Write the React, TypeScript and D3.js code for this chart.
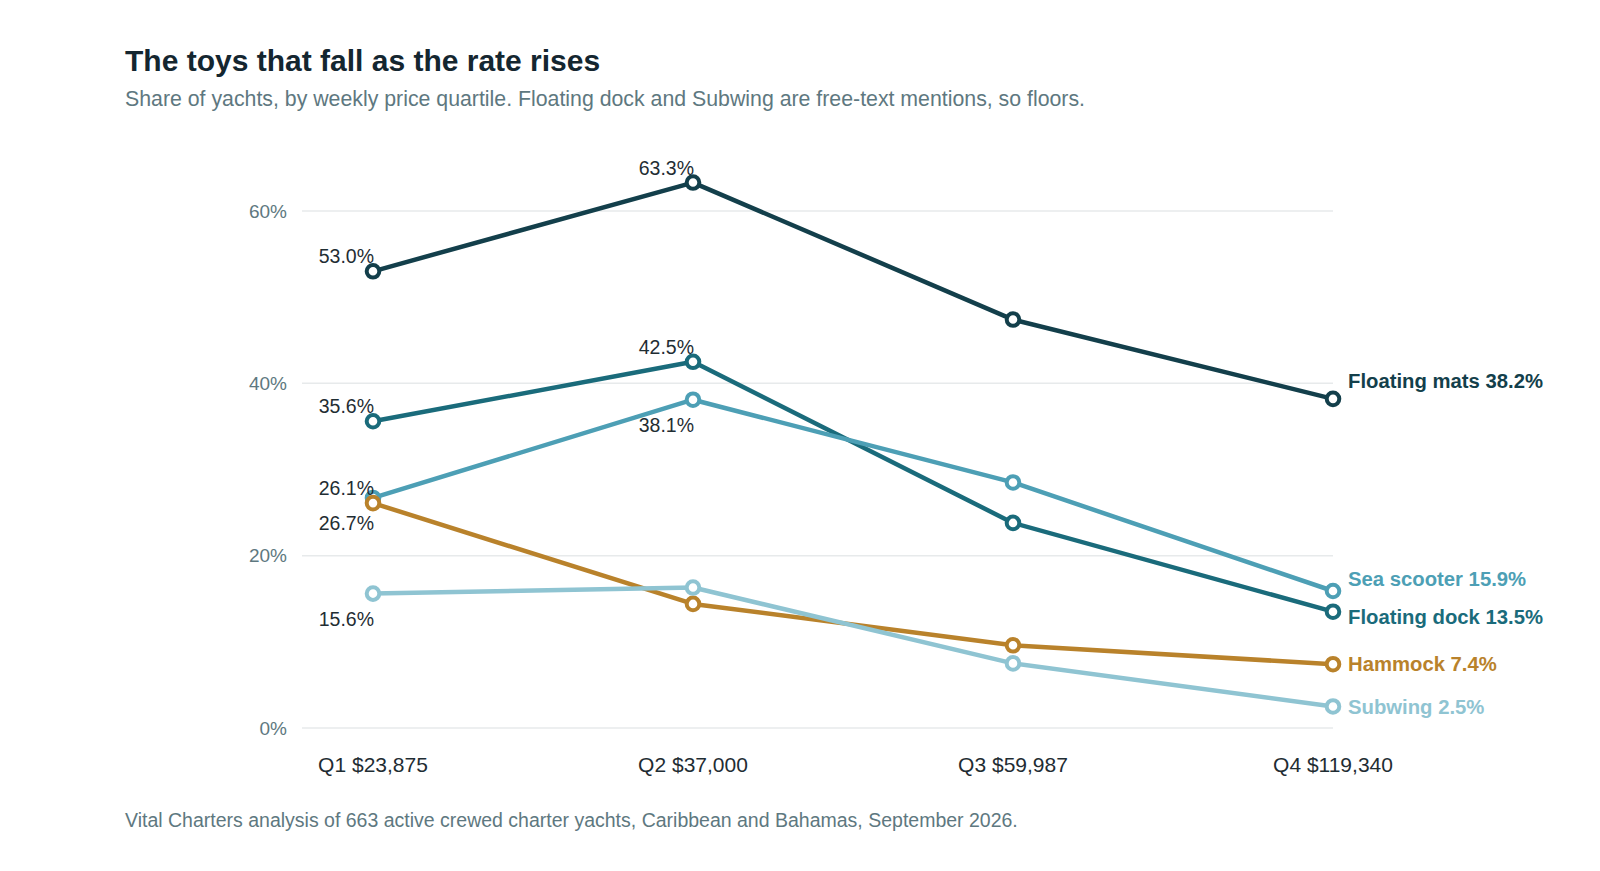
import { useEffect, useRef } from "react";
import * as d3 from "d3";

// Share of yachts offering each toy, by weekly price quartile.
const quartiles = ["Q1 $23,875", "Q2 $37,000", "Q3 $59,987", "Q4 $119,340"];
const seriesNames = ["Floating mats", "Floating dock", "Sea scooter", "Hammock", "Subwing"];
const floatingMats = [53.0, 63.3, 47.4, 38.2];
const floatingDock = [35.6, 42.5, 23.8, 13.5];
const seaScooter = [26.7, 38.1, 28.5, 15.9];
const hammock = [26.1, 14.4, 9.6, 7.4];
const subwing = [15.6, 16.3, 7.5, 2.5];
const yTicks = [0, 20, 40, 60];

// point annotations: [series index, quartile index, above/below]
const annotations: [number, number, "above" | "below"][] = [
  [0, 0, "above"],
  [0, 1, "above"],
  [1, 0, "above"],
  [1, 1, "above"],
  [2, 0, "below"],
  [2, 1, "below"],
  [3, 0, "above"],
  [4, 0, "below"],
];

const colors = ["#133f4b", "#1a6b7b", "#4d9fb5", "#b9822b", "#8fc4d2"];
// end-label nudges so the labels don't collide (same order as seriesNames)
const endNudge = [-18, 5, -12, 0, 0];
const FONT = "'Liberation Sans', Arial, Helvetica, sans-serif";

export default function App() {
  const svgRef = useRef<SVGSVGElement | null>(null);

  useEffect(() => {
    document.body.style.margin = "0";
    const svg = d3.select(svgRef.current);
    svg.selectAll("*").remove();

    const W = 1600;
    const H = 871;
    svg.attr("viewBox", `0 0 ${W} ${H}`).style("font-family", FONT);

    const values = [floatingMats, floatingDock, seaScooter, hammock, subwing];

    const x = d3.scalePoint<string>().domain(quartiles).range([373, 1333]);
    const y = d3.scaleLinear().domain([0, 60]).range([728, 211]);

    svg
      .append("text")
      .attr("x", 125)
      .attr("y", 71)
      .attr("font-size", 30)
      .attr("font-weight", 700)
      .attr("fill", "#142630")
      .text("The toys that fall as the rate rises");
    svg
      .append("text")
      .attr("x", 125)
      .attr("y", 106)
      .attr("font-size", 21.3)
      .attr("fill", "#5e7880")
      .text(
        "Share of yachts, by weekly price quartile. Floating dock and Subwing are free-text mentions, so floors."
      );

    const grid = svg.append("g");
    grid
      .selectAll("line")
      .data(yTicks)
      .join("line")
      .attr("x1", 302)
      .attr("x2", x(quartiles[quartiles.length - 1])!)
      .attr("y1", (d) => y(d))
      .attr("y2", (d) => y(d))
      .attr("stroke", "#e7eaeb")
      .attr("stroke-width", 1.5);
    grid
      .selectAll("text")
      .data(yTicks)
      .join("text")
      .attr("x", 287)
      .attr("y", (d) => y(d))
      .attr("dy", "0.35em")
      .attr("text-anchor", "end")
      .attr("font-size", 19)
      .attr("fill", "#5e7880")
      .text((d) => `${d}%`);

    svg
      .append("g")
      .selectAll("text")
      .data(quartiles)
      .join("text")
      .attr("x", (d) => x(d)!)
      .attr("y", 772)
      .attr("text-anchor", "middle")
      .attr("font-size", 21)
      .attr("fill", "#1f2d33")
      .text((d) => d);

    const line = d3
      .line<number>()
      .x((_, i) => x(quartiles[i])!)
      .y((d) => y(d));

    values.forEach((vals, s) => {
      const g = svg.append("g");
      g.append("path")
        .attr("d", line(vals))
        .attr("fill", "none")
        .attr("stroke", colors[s])
        .attr("stroke-width", 4.5)
        .attr("stroke-linejoin", "round");
      g.selectAll("circle")
        .data(vals)
        .join("circle")
        .attr("cx", (_, i) => x(quartiles[i])!)
        .attr("cy", (d) => y(d))
        .attr("r", 6.3)
        .attr("fill", "#fff")
        .attr("stroke", colors[s])
        .attr("stroke-width", 4);

      const last = vals.length - 1;
      g.append("text")
        .attr("x", x(quartiles[last])! + 15)
        .attr("y", y(vals[last]) + endNudge[s])
        .attr("dy", "0.35em")
        .attr("font-size", 20.3)
        .attr("font-weight", 700)
        .attr("fill", colors[s])
        .text(`${seriesNames[s]} ${vals[last].toFixed(1)}%`);
    });

    svg
      .append("g")
      .selectAll("text")
      .data(annotations)
      .join("text")
      .attr("x", ([, i]) => x(quartiles[i])! + 1)
      .attr("y", ([s, i, pos]) => y(values[s][i]) + (pos === "above" ? -8 : 32))
      .attr("text-anchor", "end")
      .attr("font-size", 19.5)
      .attr("fill", "#1f2d33")
      .text(([s, i]) => `${values[s][i].toFixed(1)}%`);

    svg
      .append("text")
      .attr("x", 125)
      .attr("y", 827)
      .attr("font-size", 19.5)
      .attr("fill", "#5e7880")
      .text(
        "Vital Charters analysis of 663 active crewed charter yachts, Caribbean and Bahamas, September 2026."
      );
  }, []);

  return <svg ref={svgRef} width={1600} height={871} style={{ display: "block" }} />;
}
